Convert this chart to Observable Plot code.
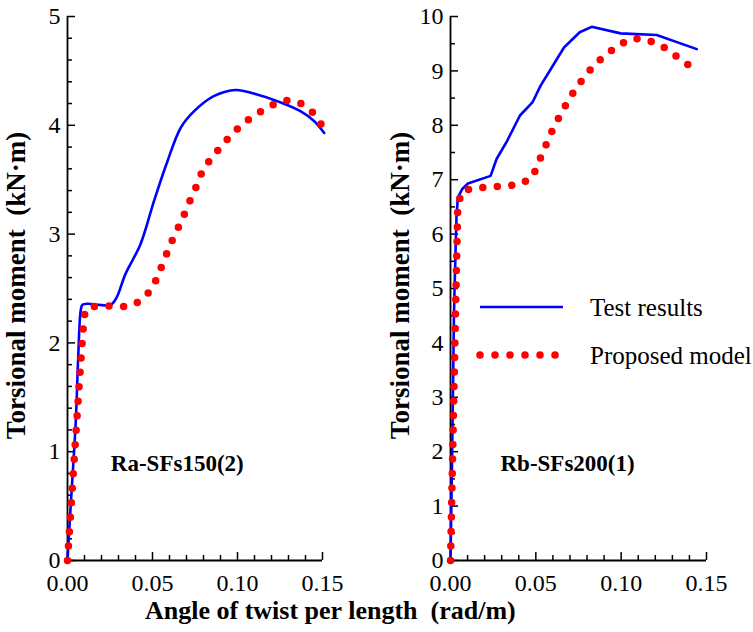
<!DOCTYPE html>
<html><head><meta charset="utf-8">
<script src="https://cdn.jsdelivr.net/npm/d3@7"></script>
<script src="https://cdn.jsdelivr.net/npm/@observablehq/plot@0.6"></script>
<style>
body{margin:0;background:#fff;}
#wrap{position:relative;width:753px;height:632px;font-family:"Liberation Serif","Times New Roman",serif;color:#000;}
.panel{position:absolute;top:0;}
#xtitle{position:absolute;left:145px;top:598px;font-weight:bold;font-size:26px;white-space:pre;line-height:1;}
#legend{position:absolute;left:470px;top:285px;}
</style></head><body><div id="wrap"></div>
<script>
// ---- data ----
const xMajorTicks = [0, 0.05, 0.10, 0.15];
const xMinorTicks = [0.01,0.02,0.03,0.04,0.06,0.07,0.08,0.09,0.11,0.12,0.13,0.14];
const leftYTicks = [0,1,2,3,4,5];
const leftYMinor = [0.2,0.4,0.6,0.8,1.2,1.4,1.6,1.8,2.2,2.4,2.6,2.8,3.2,3.4,3.6,3.8,4.2,4.4,4.6,4.8];
const rightYTicks = [0,1,2,3,4,5,6,7,8,9,10];
const rightYMinor = [0.5,1.5,2.5,3.5,4.5,5.5,6.5,7.5,8.5,9.5];

const yTitle = "Torsional moment  (kN\u00b7m)";
const xTitle = "Angle of twist per length  (rad/m)";
const seriesNames = ["Test results", "Proposed model"];

// Left specimen Ra-SFs150(2)
const leftTestX = [0, 0.0016, 0.0049, 0.0063, 0.0078, 0.0088, 0.012, 0.018, 0.0255, 0.029, 0.034, 0.043, 0.051, 0.0588, 0.0667, 0.0745, 0.0863, 0.099, 0.11, 0.1255, 0.137, 0.145, 0.151];
const leftTestY = [0, 0.43, 1.29, 1.87, 2.30, 2.35, 2.36, 2.35, 2.35, 2.42, 2.63, 2.91, 3.31, 3.67, 3.98, 4.13, 4.27, 4.325, 4.29, 4.21, 4.13, 4.04, 3.93];
const leftModelX = [0, 0.0088, 0.0098, 0.011, 0.014, 0.025, 0.036, 0.043, 0.049, 0.053, 0.056, 0.0594, 0.0627, 0.0667, 0.070, 0.0735, 0.077, 0.080, 0.0855, 0.091, 0.097, 0.103, 0.110, 0.1176, 0.1255, 0.134, 0.142, 0.1475, 0.152];
const leftModelY = [0, 2.04, 2.22, 2.31, 2.33, 2.34, 2.34, 2.39, 2.49, 2.61, 2.73, 2.86, 2.98, 3.11, 3.23, 3.36, 3.48, 3.60, 3.71, 3.82, 3.92, 4.01, 4.09, 4.16, 4.22, 4.22, 4.15, 4.05, 3.93];
const leftLabel = {x: 0.0255, y: 0.89, text: "Ra-SFs150(2)"};

// Right specimen Rb-SFs200(1)
const rightTestX = [0, 0.001, 0.002, 0.0024, 0.0035, 0.0043, 0.0069, 0.0102, 0.0235, 0.027, 0.0333, 0.0407, 0.048, 0.0528, 0.0587, 0.0665, 0.0757, 0.0827, 0.0997, 0.1208, 0.1443];
const rightTestY = [0, 2.02, 4.47, 5.02, 6.31, 6.67, 6.83, 6.93, 7.07, 7.38, 7.72, 8.18, 8.42, 8.73, 9.03, 9.43, 9.71, 9.81, 9.69, 9.66, 9.40];
const rightModelX = [0, 0.0030, 0.0043, 0.0069, 0.0153, 0.024, 0.0325, 0.041, 0.048, 0.0512, 0.0547, 0.058, 0.0616, 0.0659, 0.070, 0.0749, 0.080, 0.0856, 0.0925, 0.0993, 0.1071, 0.1154, 0.1238, 0.131, 0.1379, 0.1453];
const rightModelY = [0, 4.65, 6.54, 6.80, 6.85, 6.87, 6.88, 6.92, 7.04, 7.29, 7.54, 7.80, 8.03, 8.28, 8.51, 8.74, 8.95, 9.15, 9.33, 9.49, 9.60, 9.57, 9.46, 9.30, 9.14, 8.99];
const rightLabel = {x: 0.0293, y: 1.78, text: "Rb-SFs200(1)"};

const BLUE = "#0000ff", RED = "#ff0000";
const FONT = '"Liberation Serif", "Times New Roman", serif';

function panel(o) {
  const test = o.testX.map((x, i) => ({x, y: o.testY[i]}));
  const model = o.modelX.map((x, i) => ({x, y: o.modelY[i]}));
  return Plot.plot({
    width: o.width, height: 632,
    marginLeft: o.marginLeft, marginRight: o.marginRight, marginTop: 16, marginBottom: 72,
    style: {fontFamily: FONT, fontSize: "24px", color: "#000", background: "transparent", overflow: "visible"},
    x: {domain: [0, 0.15]},
    y: {domain: [0, o.yMax]},
    marks: [
      Plot.axisX({ticks: xMajorTicks, tickFormat: d3.format(".2f"), tickSize: -8, tickPadding: 21, label: null, strokeWidth: 1.5, fontFamily: FONT}),
      Plot.axisX({ticks: xMinorTicks, tickFormat: () => "", tickSize: -5, tickPadding: 0, label: null, strokeWidth: 1.5}),
      Plot.axisY({ticks: o.yTicks, tickFormat: d3.format("d"), tickSize: -8, tickPadding: 15, label: null, strokeWidth: 1.5, fontFamily: FONT}),
      Plot.axisY({ticks: o.yMinor, tickFormat: () => "", tickSize: -5, tickPadding: 0, label: null, strokeWidth: 1.5}),
      Plot.ruleX([0], {strokeWidth: 1.8}),
      Plot.ruleY([0], {strokeWidth: 1.8}),
      Plot.line(test, {x: "x", y: "y", stroke: BLUE, strokeWidth: 2.6, curve: o.curve}),
      Plot.line(model, {x: "x", y: "y", stroke: RED, strokeWidth: 7.5, strokeDasharray: "0 14.5", strokeLinecap: "round", curve: o.curve}),
      Plot.text([o.label], {x: "x", y: "y", text: "text", textAnchor: "start", fontWeight: "bold", fontSize: 23, fontFamily: FONT}),
      Plot.text([yTitle], {frameAnchor: "left", textAnchor: "middle", rotate: -90, dx: o.titleDx, dy: -3, fontWeight: "bold", fontSize: 27, lineAnchor: "bottom", fontFamily: FONT})
    ]
  });
}

const wrap = document.getElementById("wrap");
const left = panel({width: 380, marginLeft: 67, marginRight: 58, yMax: 5, yTicks: leftYTicks, yMinor: leftYMinor, titleDx: -43,
  testX: leftTestX, testY: leftTestY, modelX: leftModelX, modelY: leftModelY, label: leftLabel, curve: "catmull-rom"});
left.classList.add("panel"); left.style.left = "0px";
wrap.appendChild(left);
const right = panel({width: 373, marginLeft: 70, marginRight: 47, yMax: 10, yTicks: rightYTicks, yMinor: rightYMinor, titleDx: -42,
  testX: rightTestX, testY: rightTestY, modelX: rightModelX, modelY: rightModelY, label: rightLabel, curve: "linear"});
right.classList.add("panel"); right.style.left = "380px";
wrap.appendChild(right);

const xt = document.createElement("div");
xt.id = "xtitle"; xt.textContent = xTitle;
wrap.appendChild(xt);

// legend
const lg = d3.select(wrap).append("svg").attr("id", "legend").attr("width", 283).attr("height", 100);
const rows = [{name: seriesNames[0], color: BLUE, dash: null, w: 2.6, len: 83},
              {name: seriesNames[1], color: RED, dash: "0 15", w: 7.5, len: 76}];
rows.forEach((r, i) => {
  const cy = 22 + i * 48;
  lg.append("line").attr("x1", 10).attr("x2", 10 + r.len).attr("y1", cy).attr("y2", cy)
    .attr("stroke", r.color).attr("stroke-width", r.w)
    .attr("stroke-dasharray", r.dash).attr("stroke-linecap", r.dash ? "round" : "butt");
  lg.append("text").attr("x", 120).attr("y", cy).attr("dy", "0.35em")
    .style("font-family", FONT).attr("font-size", 25).text(r.name);
});
</script>
</body></html>
